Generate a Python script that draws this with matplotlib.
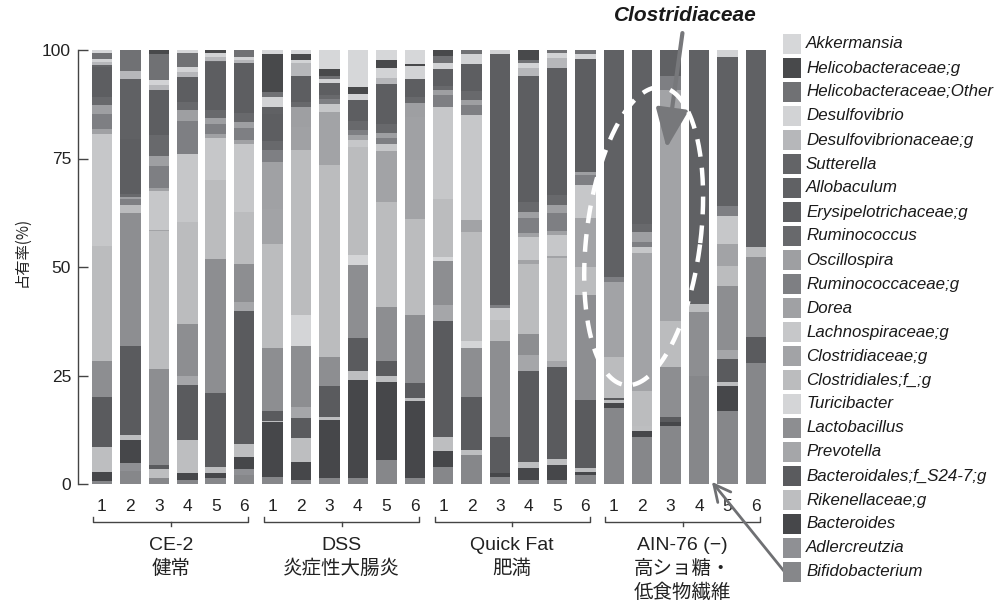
import numpy as np
import matplotlib
matplotlib.use("Agg")
import matplotlib.pyplot as plt
from matplotlib.patches import Rectangle
from matplotlib.transforms import blended_transform_factory

plt.rcParams['font.family'] = ['Liberation Sans', 'Noto Sans CJK JP', 'DejaVu Sans']

W, H = 1007, 604

# --- data: % share per sample, 24 samples (CE-2 1-6, DSS 1-6, Quick Fat 1-6, AIN-76 1-6)
# stacked bottom -> top
bifidobacterium = [0.8, 3.1, 1.3, 0.9, 1.3, 2.1, 1.7, 0.9, 1.3, 1.3, 5.5, 1.3,
                   4.0, 6.7, 1.7, 0.9, 0.9, 2.1, 17.8, 10.9, 13.6, 25.1, 16.7, 27.8]
adlercreutzia = [0, 1.7, 0, 0, 0, 1.3, 0, 0, 0, 0, 0, 0,
                 0, 0, 0, 0, 0, 0, 0, 0, 0, 0, 0, 0]
bacteroides = [2.1, 5.4, 0, 1.7, 1.2, 2.9, 12.7, 4.2, 13.6, 23.0, 18.0, 18.0,
               3.7, 0, 0.8, 2.7, 3.5, 0.8, 1.2, 1.5, 0.8, 0, 5.8, 0]
rikenellaceae = [5.7, 1.2, 2.1, 7.7, 1.4, 2.8, 0.3, 5.4, 0.6, 2.1, 1.5, 0.8,
                 3.1, 1.3, 0, 1.5, 1.5, 0.8, 0.5, 1.2, 0, 0, 0.8, 0]
s24_7 = [11.7, 20.8, 1.0, 12.7, 17.0, 30.6, 2.3, 4.8, 7.3, 7.7, 3.5, 3.5,
         27.0, 12.2, 8.3, 21.2, 21.2, 15.8, 0.6, 0, 1.2, 0, 5.4, 6.1]
prevotella = [0, 0, 0, 1.9, 0, 2.0, 0, 2.5, 0, 0, 0, 0,
              3.5, 0, 0, 3.5, 1.5, 0, 0, 0, 0, 0, 1.9, 0]
lactobacillus = [8.5, 31.2, 22.5, 12.1, 31.0, 8.8, 14.6, 14.0, 6.9, 16.8, 12.3, 15.8,
                 10.4, 11.5, 22.3, 5.0, 0, 24.6, 0, 0, 11.5, 14.6, 14.6, 18.4]
turicibacter = [0, 0, 0, 0, 0, 0, 0, 7.2, 0, 2.5, 0, 0,
                0.8, 1.5, 0, 0, 0, 0, 0, 0, 0, 0, 0, 0]
clostridiales = [26.8, 1.9, 32.0, 23.7, 18.4, 11.9, 24.2, 38.0, 44.6, 25.2, 24.2, 22.3,
                 13.5, 25.4, 5.0, 16.2, 23.8, 6.5, 9.6, 8.1, 10.8, 1.9, 4.6, 2.3]
clostridiaceae = [0, 0, 0.3, 0, 0, 0, 8.1, 0, 12.3, 0, 11.9, 13.8,
                  0, 2.7, 0, 0.9, 0.4, 11.5, 17.3, 32.3, 53.8, 0, 5.0, 0]
lachnospiraceae = [26.0, 0, 9.0, 15.8, 9.6, 15.8, 0, 0, 1.9, 1.5, 1.5, 0,
                   21.2, 24.3, 2.7, 5.4, 5.0, 7.7, 0, 1.5, 0, 0, 6.5, 0]
dorea = [1.2, 0, 0.8, 0, 0.8, 0.8, 10.8, 5.4, 0, 1.2, 0, 10.0,
         0, 0, 0, 0.8, 0.8, 0, 0, 0, 0, 0, 0, 0]
ruminococcaceae = [3.5, 1.2, 5.0, 7.5, 2.5, 2.7, 2.8, 0, 1.2, 1.2, 1.5, 0,
                   2.7, 2.5, 0.8, 3.5, 4.2, 2.3, 1.2, 1.2, 3.1, 0, 2.3, 0]
oscillospira = [2.1, 0.6, 2.3, 2.5, 1.2, 1.5, 0, 4.5, 0, 0, 1.2, 3.1,
                1.2, 1.1, 0, 1.5, 1.9, 0.8, 0, 2.3, 0, 0, 0, 0]
ruminococcus = [2.0, 0.6, 5.0, 2.0, 2.0, 2.0, 2.0, 1.3, 1.0, 2.0, 2.0, 1.5,
                1.0, 2.0, 0, 2.3, 2.3, 0, 0, 1.9, 0, 0, 0, 0]
erysipelotrichaceae = [7.0, 13.0, 10.4, 5.7, 11.0, 11.5, 6.3, 5.8, 2.8, 4.9, 9.2, 4.2,
                       4.0, 6.3, 58.0, 29.2, 29.6, 26.2, 0, 0, 0, 0, 0, 0]
allobaculum = [0, 13.9, 0, 0, 0, 0, 1.7, 0, 0, 0, 0, 0,
               0, 0, 0, 0, 0, 0, 53.0, 40.7, 6.1, 58.8, 34.2, 45.3]
sutterella = [0.3, 0, 0, 0, 0.3, 0, 0, 0, 0, 0, 0, 0,
              0, 0, 0, 0, 0, 0, 0, 0, 0, 0, 0, 0]
desulfovibrionaceae = [0.8, 1.8, 1.2, 1.2, 0.9, 0.8, 0, 3.0, 0, 0, 1.5, 0,
                       0, 0, 0, 1.9, 2.3, 0, 0, 0, 0, 0, 0, 0]
desulfovibrio = [0.7, 0, 1.1, 1.1, 0.8, 0.7, 2.2, 0.9, 0.8, 1.5, 2.3, 3.0,
                 1.2, 2.3, 1.0, 1.2, 1.2, 1.2, 0, 0, 0, 0, 1.5, 0]
helico_other = [1.5, 5.0, 6.1, 3.2, 0, 1.5, 1.2, 0, 0.8, 0, 0, 0,
                1.8, 1.0, 0, 0.6, 0.6, 1.0, 0, 0, 0, 0, 0, 0]
helico_g = [0, 0, 1.0, 0, 0.8, 0, 8.8, 1.2, 1.5, 1.5, 1.9, 0.5,
            1.3, 0, 0, 2.3, 0, 0, 0, 0, 0, 0, 0, 0]
akkermansia = [0.6, 0, 0, 0.8, 0, 0, 1.0, 1.0, 4.5, 8.7, 2.2, 3.2,
               0, 0, 0, 0, 0, 0, 0, 0, 0, 0, 0, 0]

categories = ["Bifidobacterium", "Adlercreutzia", "Bacteroides", "Rikenellaceae;g",
              "Bacteroidales;f_S24-7;g", "Prevotella", "Lactobacillus", "Turicibacter",
              "Clostridiales;f_;g", "Clostridiaceae;g", "Lachnospiraceae;g", "Dorea",
              "Ruminococcaceae;g", "Oscillospira", "Ruminococcus", "Erysipelotrichaceae;g",
              "Allobaculum", "Sutterella", "Desulfovibrionaceae;g", "Desulfovibrio",
              "Helicobacteraceae;Other", "Helicobacteraceae;g", "Akkermansia"]
series = [bifidobacterium, adlercreutzia, bacteroides, rikenellaceae, s24_7, prevotella,
          lactobacillus, turicibacter, clostridiales, clostridiaceae, lachnospiraceae, dorea,
          ruminococcaceae, oscillospira, ruminococcus, erysipelotrichaceae, allobaculum,
          sutterella, desulfovibrionaceae, desulfovibrio, helico_other, helico_g, akkermansia]
colors = ["#86878a", "#8f9094", "#46474a", "#bdbec0", "#5a5b5e", "#a5a6a9",
          "#8d8e91", "#d4d5d7", "#bbbcbe", "#a2a3a6", "#c6c7c9", "#a0a1a4",
          "#7e7f83", "#9e9fa2", "#68696c", "#5d5e61", "#606164", "#636467",
          "#b6b7ba", "#d2d3d5", "#707174", "#48494b", "#d6d7d9"]

groups = ["CE-2", "DSS", "Quick Fat", "AIN-76 (\u2212)"]
group_notes = [["健常"], ["炎症性大腸炎"], ["肥満"], ["高ショ糖・", "低食物繊維"]]
samples = ["1", "2", "3", "4", "5", "6"]


def fy(px):
    return 1 - px / H


data = np.array(series, dtype=float)
data = data / data.sum(axis=0) * 100
n = data.shape[1]
x = np.arange(n)

fig = plt.figure(figsize=(W / 100, H / 100), dpi=100)
ax = fig.add_axes([78 / W, fy(484), 697 / W, 434 / H])

bottom = np.zeros(n)
for name, col, vals in zip(categories, colors, data):
    ax.bar(x, vals, 0.72, bottom=bottom, color=col, linewidth=0, label=name)
    bottom += vals

ax.set_xlim(-0.844, 23.67)
ax.set_ylim(0, 100)
for s in ["top", "right", "bottom"]:
    ax.spines[s].set_visible(False)
ax.spines["left"].set_color("#444444")
ax.spines["left"].set_linewidth(1)
ax.set_yticks([0, 25, 50, 75, 100])
ax.tick_params(axis="y", direction="in", length=7, width=1, color="#444444",
               labelsize=12.5, pad=5, labelcolor="#222222")
ax.set_xticks(x)
ax.set_xticklabels(samples * 4)
ax.tick_params(axis="x", length=0, pad=11, labelsize=12.5, labelcolor="#222222")

fig.text(22 / W, fy(252), "占有率(%)", rotation=90, ha="center", va="center",
         fontsize=11, color="#222222", family=["Noto Sans CJK JP", "DejaVu Sans"])

# group brackets and labels
trans = blended_transform_factory(ax.transData, fig.transFigure)
for g, (gname, notes) in enumerate(zip(groups, group_notes)):
    x0, x1 = g * 6 - 0.3, g * 6 + 5 + 0.15
    xc = (x0 + x1) / 2
    ax.plot([x0, x0, x1, x1], [fy(517), fy(522), fy(522), fy(517)], transform=trans,
            clip_on=False, color="#444444", lw=1)
    ax.plot([xc, xc], [fy(522), fy(526)], transform=trans, clip_on=False,
            color="#444444", lw=1)
    for k, line in enumerate([gname] + notes):
        ax.text(xc, fy(545 + 24 * k), line, transform=trans, ha="center", va="center",
                fontsize=14, color="#222222")

# legend (top = last stacked)
for i, (name, col) in enumerate(zip(categories[::-1], colors[::-1])):
    yc = 44 + 24 * i
    fig.add_artist(Rectangle((783 / W, fy(yc + 10)), 18 / W, 20 / H,
                             transform=fig.transFigure, facecolor=col, lw=0))
    fig.text(806 / W, fy(yc), name, ha="left", va="center", fontsize=12.2,
             style="italic", color="#1a1a1a")

# Clostridiaceae callout
ax.annotate("Clostridiaceae", xy=(19.86, 77.4), xytext=(20.5, 108), textcoords="data",
            ha="center", va="center", fontsize=15, fontweight="bold", style="italic",
            color="#1a1a1a", annotation_clip=False,
            arrowprops=dict(arrowstyle="-|>,head_width=0.5,head_length=1.2",
                            color="#77787b", lw=3, shrinkA=4, shrinkB=0,
                            mutation_scale=20))

# Bifidobacterium pointer
ax.annotate("", xy=(21.45, 0.5), xytext=(24.1, -21.0), textcoords="data",
            annotation_clip=False,
            arrowprops=dict(arrowstyle="->,head_width=0.4,head_length=0.8",
                            color="#6f7073", lw=2, shrinkA=0, shrinkB=0,
                            mutation_scale=15))

# dashed ellipse around AIN-76 samples 1-3
cx, cy = ax.transData.transform((19.05, 57.1))
t = np.linspace(0, 2 * np.pi, 300)
ang = np.deg2rad(-7)
ex, ey = 57 * np.cos(t), 150 * np.sin(t)
px = cx + ex * np.cos(ang) - ey * np.sin(ang)
py = cy + ex * np.sin(ang) + ey * np.cos(ang)
pts = ax.transData.inverted().transform(np.column_stack([px, py]))
ax.plot(pts[:, 0], pts[:, 1], color="white", lw=3.2, ls=(0, (4, 2.5)),
        clip_on=False, zorder=5)

fig.savefig("out.png", dpi=100)
